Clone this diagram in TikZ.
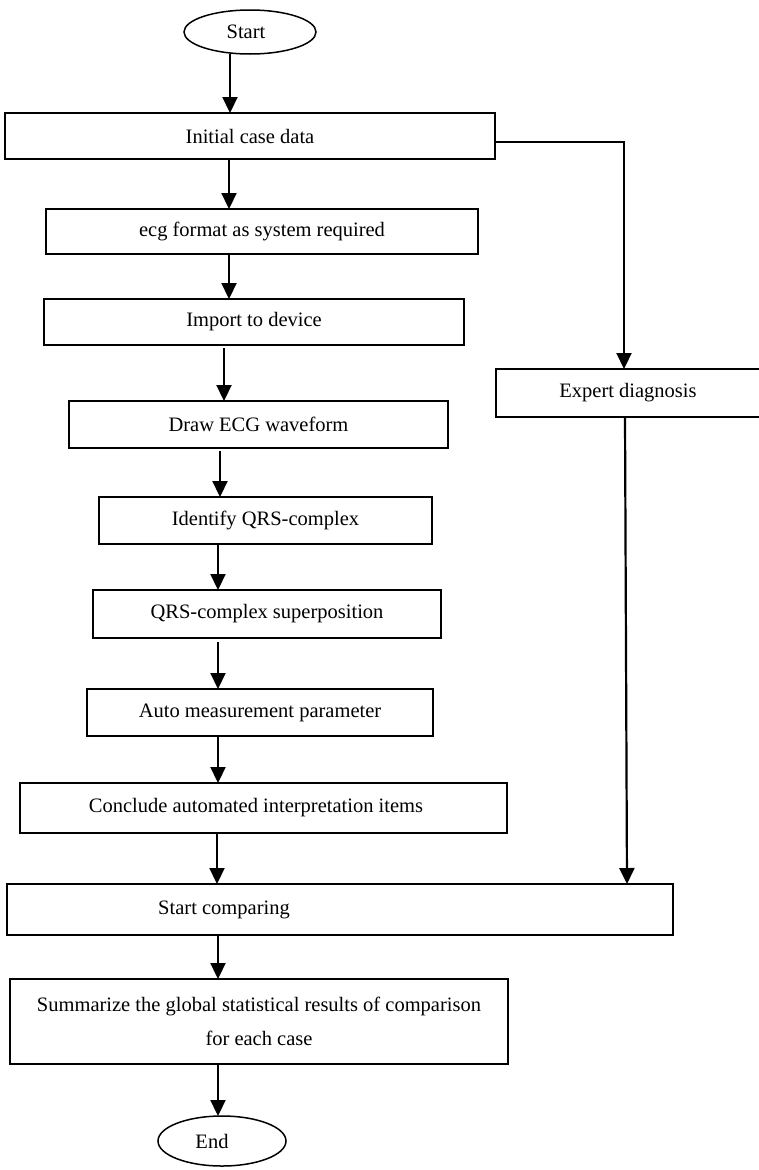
\documentclass[tikz,border=0pt]{standalone}
\usepackage{fontspec}
\setmainfont{Liberation Serif}
\usetikzlibrary{arrows.meta,shapes.geometric}
\begin{document}
\begin{tikzpicture}[x=1pt,y=-1pt,
  every node/.style={font=\fontsize{20.5}{24}\selectfont, inner sep=0pt, outer sep=0pt},
  box/.style={draw, line width=1.5pt, rectangle},
  oval/.style={draw, line width=1.5pt, ellipse},
  txt/.style={},
  arr/.style={line width=2.2pt, -{Triangle[length=16pt,width=15pt]}},
  conn/.style={line width=2.2pt}]
\useasboundingbox (0,0) rectangle (759,1170);

\node[oval, minimum width=132pt, minimum height=44pt] (start) at (250,32) {};
\node[txt] (startt) at (246,32) {Start};
\node[box, minimum width=490pt, minimum height=46pt] (init) at (250,136) {Initial case data};
\node[box, minimum width=432pt, minimum height=45pt] (ecg) at (262,231.5) {ecg format as system required};
\node[box, minimum width=420pt, minimum height=46pt] (imp) at (254,322) {Import to device};
\node[box, minimum width=379pt, minimum height=47pt] (wave) at (258.5,424.5) {Draw ECG waveform};
\node[box, minimum width=333pt, minimum height=47pt] (ident) at (265.5,520.5) {Identify QRS-complex};
\node[box, minimum width=348pt, minimum height=48pt] (sup) at (267,614) {QRS-complex superposition};
\node[box, minimum width=346pt, minimum height=47pt] (auto) at (260,712.5) {Auto measurement parameter};
\node[box, minimum width=487pt, minimum height=50pt] (concl) at (263.5,808) {};
\node[txt] (conclt) at (256,808) {Conclude automated interpretation items};
\node[box, minimum width=666pt, minimum height=51pt] (cmp) at (340,909.5) {};
\node[txt] (cmpt) at (224,909.5) {Start comparing};
\node[box, minimum width=498pt, minimum height=85pt, align=center] (sum) at (259,1021.5)
  {Summarize the global statistical results of comparison\\[10pt]for each case};
\node[oval, minimum width=128pt, minimum height=50pt] (end) at (222,1141) {};
\node[txt] (endt) at (212,1141) {End};
\node[box, minimum width=264pt, minimum height=48pt] (expert) at (628,393) {Expert diagnosis};

\draw[arr] (start.south -| 230,0) -- (init.north -| 230,0);
\draw[arr] (init.south -| 229,0) -- (ecg.north -| 229,0);
\draw[arr] (ecg.south -| 229,0) -- (imp.north -| 229,0);
\draw[arr, shorten <=3pt] (imp.south -| 224,0) -- (wave.north -| 224,0);
\draw[arr, shorten <=3pt] (wave.south -| 220,0) -- (ident.north -| 220,0);
\draw[arr] (ident.south -| 218,0) -- (sup.north -| 218,0);
\draw[arr, shorten <=4pt] (sup.south -| 218,0) -- (auto.north -| 218,0);
\draw[arr] (auto.south -| 218,0) -- (concl.north -| 218,0);
\draw[arr] (concl.south -| 217,0) -- (cmp.north -| 217,0);
\draw[arr] (cmp.south -| 218,0) -- (sum.north -| 218,0);
\draw[arr] (sum.south -| 218,0) -- (end.north -| 218,0);

\coordinate (bend) at (624,142);
\draw[arr] (init.east |- bend) -- (bend) -- (expert.north -| bend);
\draw[arr] (expert.south -| 625,0) -- (cmp.north -| 627,0);
\end{tikzpicture}
\end{document}
